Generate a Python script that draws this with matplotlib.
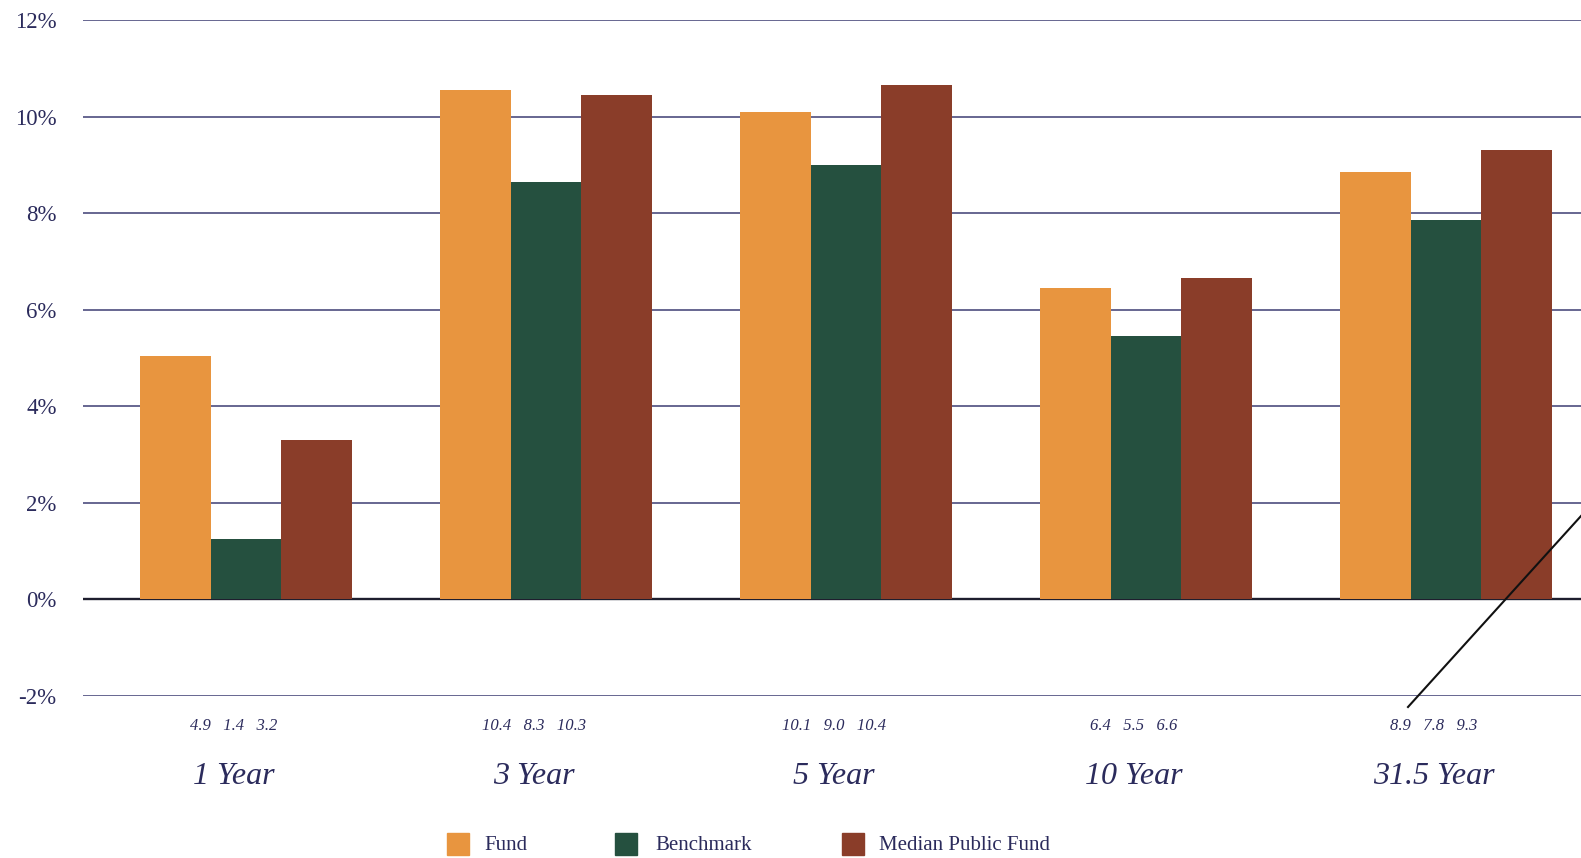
import matplotlib
matplotlib.use("Agg")
import matplotlib.pyplot as plt
from matplotlib.lines import Line2D
from matplotlib.patches import Rectangle
import numpy as np

# periods and returns (%), bar heights
periods = ["1 Year", "3 Year", "5 Year", "10 Year", "31.5 Year"]
fund = [5.05, 10.55, 10.1, 6.45, 8.85]
benchmark = [1.25, 8.65, 9.0, 5.45, 7.85]
median_fund = [3.3, 10.45, 10.65, 6.65, 9.3]
# printed values under each group
fund_lbl = ["4.9", "10.4", "10.1", "6.4", "8.9"]
bench_lbl = ["1.4", "8.3", "9.0", "5.5", "7.8"]
median_lbl = ["3.2", "10.3", "10.4", "6.6", "9.3"]
yticks = [-2, 0, 2, 4, 6, 8, 10, 12]

series_names = ["Fund", "Benchmark", "Median Public Fund"]
colors = ["#E8953F", "#25503F", "#8A3D29"]
txt = "#2B2B5C"
grid_c = "#5A5A88"

plt.rcParams["font.family"] = ["Liberation Serif", "DejaVu Serif"]

W, H = 1581, 858
fig = plt.figure(figsize=(W / 100, H / 100), dpi=100)
ax = fig.add_axes([83 / W, 1 - 696 / H, (W - 83) / W, 676 / H])

x = np.arange(len(periods))
w = 0.235
for yv in yticks:
    ax.axhline(yv, color="#1E1E2E" if yv == 0 else grid_c, lw=1.7 if yv == 0 else 1.3, zorder=1)
for k, vals in enumerate([fund, benchmark, median_fund]):
    ax.bar(x + (k - 1) * w, vals, width=w, color=colors[k], zorder=2, linewidth=0)

ax.set_xlim(-0.543, 4.45)
ax.set_ylim(-2, 12)
ax.set_yticks(yticks)
ax.set_yticklabels([f"{v}%" for v in yticks], fontsize=16.5, color=txt)
ax.tick_params(axis="y", length=0, pad=19)
ax.set_xticks([])
for s in ax.spines.values():
    s.set_visible(False)

for i, p in enumerate(periods):
    lbl = f"{fund_lbl[i]}   {bench_lbl[i]}   {median_lbl[i]}"
    ax.text(x[i] - 0.04, -2.62, lbl, ha="center", va="center", fontsize=12,
            style="italic", color=txt, clip_on=False)
    ax.text(x[i] - 0.04, -3.66, p, ha="center", va="center", fontsize=23,
            style="italic", color=txt, clip_on=False)

# legend, placed by hand
leg_sq = [447, 615, 842]
leg_tx = [484, 655, 879]
for k, name in enumerate(series_names):
    fig.add_artist(Rectangle((leg_sq[k] / W, 1 - 855 / H), 22 / W, 22 / H,
                             color=colors[k], transform=fig.transFigure))
    fig.text(leg_tx[k] / W, 1 - 846 / H, name, ha="left", va="center",
             fontsize=15, color=txt)

# stray diagonal stroke at right
fig.add_artist(Line2D([1408 / W, 1.0], [1 - 707 / H, 1 - 516 / H], color="#111111", lw=1.5))

fig.savefig("out.png", dpi=100)
